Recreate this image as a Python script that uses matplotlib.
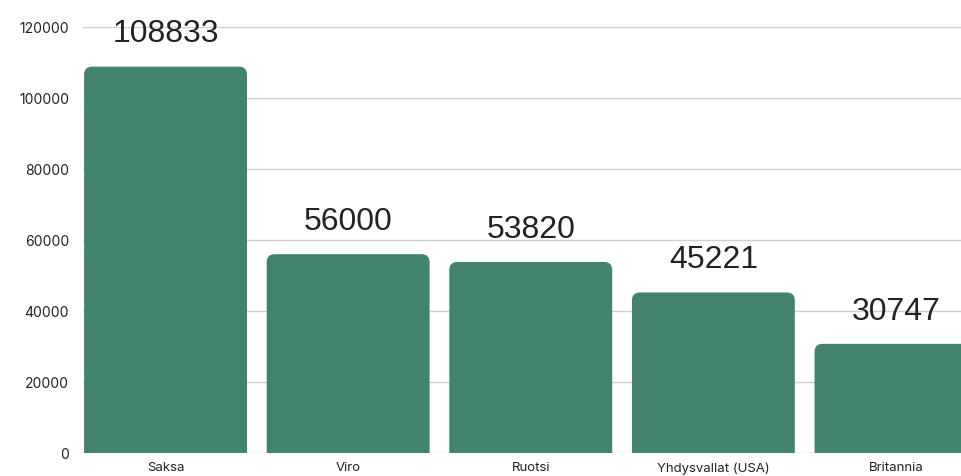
import matplotlib.pyplot as plt
from matplotlib.patches import FancyBboxPatch

countries = ['Saksa', 'Viro', 'Ruotsi', 'Yhdysvallat (USA)', 'Britannia']
visitors = [108833, 56000, 53820, 45221, 30747]

bar_color = '#42826f'

fig = plt.figure(figsize=(9.61, 4.77), dpi=100)
ax = fig.add_axes([83 / 961, 23 / 477, 1 - 83 / 961, 426 / 477])

x = list(range(len(countries)))
bars = ax.bar(x, visitors, width=0.892, color=bar_color)

ax.set_xlim(-0.452, 4.356)
ax.set_ylim(0, 120000)
ax.set_yticks(range(0, 120001, 20000))
ax.set_xticks(x)
ax.set_xticklabels(countries)

# pyöristetyt yläkulmat: korvataan suorakaiteet
fig.canvas.draw()
px_x = ax.transData.transform((1, 0))[0] - ax.transData.transform((0, 0))[0]
px_y = ax.transData.transform((0, 1))[1] - ax.transData.transform((0, 0))[1]
r_px = 8
rx = r_px / px_x
ry = r_px / px_y
for b in bars:
    bx, bw, bh = b.get_x(), b.get_width(), b.get_height()
    b.set_visible(False)
    patch = FancyBboxPatch((bx, -2 * ry), bw, bh + 2 * ry,
                           boxstyle=f'round,pad=0,rounding_size={rx}',
                           mutation_aspect=ry / rx,
                           facecolor=bar_color, edgecolor='none', zorder=2)
    ax.add_patch(patch)

for xi, v in zip(x, visitors):
    ax.annotate(str(v), (xi, v), xytext=(0, 24), textcoords='offset points',
                ha='center', va='center', fontsize=23, color='#222222',
                family='Liberation Sans', annotation_clip=False)

ax.grid(axis='y', color='#d0d0d0', linewidth=1, zorder=0)
ax.set_axisbelow(True)
for s in ax.spines.values():
    s.set_visible(False)
ax.tick_params(length=0)
ax.tick_params(axis='y', pad=10, labelsize=10, labelcolor='#222222')
ax.tick_params(axis='x', pad=6, labelsize=9.5, labelcolor='#222222')
for lab in ax.get_xticklabels() + ax.get_yticklabels():
    lab.set_family('Inter')

plt.savefig('out.png', dpi=100)
